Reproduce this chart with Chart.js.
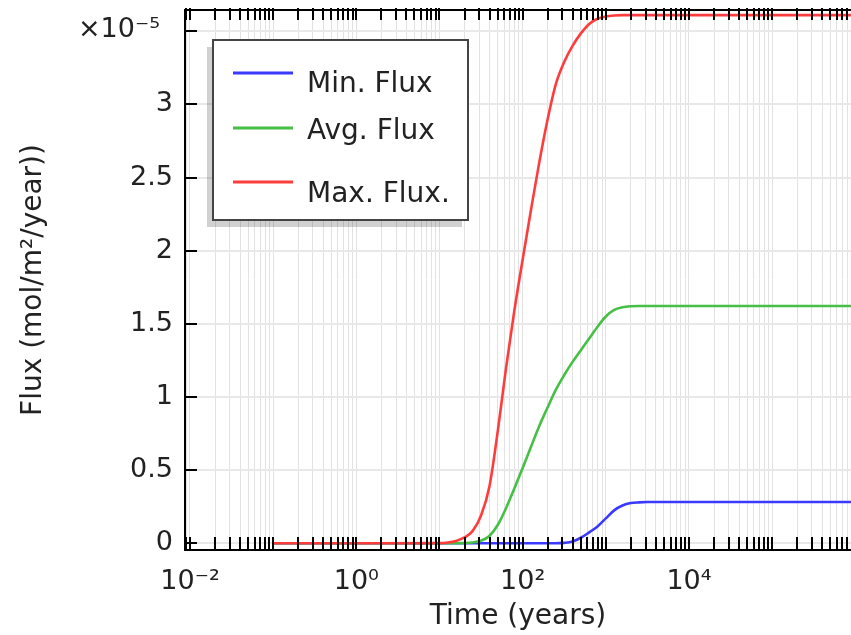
<!DOCTYPE html>
<html>
<head>
<meta charset="utf-8">
<script src="https://cdn.jsdelivr.net/npm/chart.js@4.4.1/dist/chart.umd.min.js"></script>
<style>
  html, body { margin: 0; padding: 0; background: #fff; }
  canvas { display: block; }
</style>
</head>
<body>
<canvas id="fluxChart" width="851" height="635"></canvas>
<script>
// Time steps (years)
const times = [0.1, 1, 10, 12.6, 15.8, 20, 25.1, 31.6, 39.8, 50.1, 63.1, 79.4, 100, 126, 158, 200, 251, 316,
  398, 501, 631, 794, 1000, 1259, 1585, 1995, 2512, 3162, 10000, 100000, 1000000];

// Flux values, in units of 1e-5 mol/m2/year
const minFlux = [0, 0, 0, 0, 0, 0, 0, 0, 0, 0, 0, 0, 0, 0, 0, 0, 0, 0.003,
  0.012, 0.038, 0.075, 0.115, 0.17, 0.225, 0.258, 0.275, 0.28, 0.282, 0.282, 0.282, 0.282];
const avgFlux = [0, 0, 0, 0, 0.001, 0.002, 0.006, 0.018, 0.05, 0.125, 0.24, 0.375, 0.515, 0.66, 0.80, 0.93, 1.05, 1.15,
  1.24, 1.32, 1.40, 1.48, 1.55, 1.595, 1.613, 1.62, 1.622, 1.622, 1.622, 1.622, 1.622];
const maxFlux = [0, 0, 0.001, 0.005, 0.016, 0.04, 0.085, 0.19, 0.387, 0.763, 1.197, 1.59, 1.94, 2.28, 2.60, 2.90, 3.14, 3.29,
  3.40, 3.485, 3.55, 3.585, 3.60, 3.607, 3.61, 3.61, 3.61, 3.61, 3.61, 3.61, 3.61];

const seriesNames = ['Min. Flux', 'Avg. Flux', 'Max. Flux.'];
const seriesColors = ['#3a3aff', '#45c045', '#ff3c3c'];

// Axis ticks
const yTickValues = [0, 0.5, 1, 1.5, 2, 2.5, 3, 3.5];
const xLabelDecades = [-2, 0, 2, 4];
const supDigits = { '-': '\u207B', '0': '\u2070', '1': '\u00B9', '2': '\u00B2', '3': '\u00B3', '4': '\u2074',
  '5': '\u2075', '6': '\u2076', '7': '\u2077', '8': '\u2078', '9': '\u2079' };

function sup(n) {
  return String(n).split('').map(c => supDigits[c]).join('');
}

function toPoints(values) {
  return times.map((t, i) => ({ x: t, y: values[i] }));
}

// inward ticks + top axis line, like the original plot
const frameTicks = {
  id: 'frameTicks',
  afterDatasetsDraw(chart) {
    const { ctx, chartArea: a, scales: { x, y } } = chart;
    ctx.save();
    ctx.strokeStyle = '#000';
    ctx.lineWidth = 2;
    ctx.beginPath();
    x.ticks.forEach(t => {
      const px = Math.round(x.getPixelForValue(t.value));
      ctx.moveTo(px, a.bottom);
      ctx.lineTo(px, a.bottom - 13);
      ctx.moveTo(px, a.top - 2);
      ctx.lineTo(px, a.top + 10);
    });
    y.ticks.forEach(t => {
      const py = Math.round(y.getPixelForValue(t.value));
      ctx.moveTo(a.left, py);
      ctx.lineTo(a.left + 12, py);
    });
    ctx.moveTo(a.left - 1, a.top);
    ctx.lineTo(a.right, a.top);
    ctx.stroke();
    ctx.restore();
  }
};

const fluxLegend = {
  id: 'fluxLegend',
  afterDatasetsDraw(chart) {
    const { ctx } = chart;
    const bx = 213, by = 40, bw = 255, bh = 180;
    ctx.save();
    ctx.fillStyle = 'rgba(0,0,0,0.18)';
    ctx.fillRect(bx - 6, by + 7, bw, bh);
    ctx.fillStyle = '#fff';
    ctx.fillRect(bx, by, bw, bh);
    ctx.strokeStyle = '#444';
    ctx.lineWidth = 2;
    ctx.strokeRect(bx, by, bw, bh);

    const lineRows = [73, 128, 182];
    const textRows = [92, 139, 202];
    ctx.font = '28px "DejaVu Sans"';
    ctx.textAlign = 'left';
    ctx.textBaseline = 'alphabetic';
    chart.data.datasets.forEach((ds, i) => {
      ctx.strokeStyle = ds.borderColor;
      ctx.lineWidth = 3;
      ctx.beginPath();
      ctx.moveTo(233, lineRows[i]);
      ctx.lineTo(293, lineRows[i]);
      ctx.stroke();
      ctx.fillStyle = '#222';
      ctx.fillText(ds.label, 307, textRows[i]);
    });
    ctx.restore();
  }
};

const multiplier = {
  id: 'multiplier',
  afterDraw(chart) {
    const { ctx } = chart;
    ctx.save();
    ctx.font = '27px "DejaVu Sans"';
    ctx.fillStyle = '#222';
    ctx.textAlign = 'right';
    ctx.textBaseline = 'alphabetic';
    ctx.fillText('\u00D710' + sup(-5), 160, 37);
    ctx.restore();
  }
};

Chart.defaults.font.family = '"DejaVu Sans", sans-serif';
Chart.defaults.color = '#222';

new Chart(document.getElementById('fluxChart').getContext('2d'), {
  type: 'line',
  data: {
    datasets: [minFlux, avgFlux, maxFlux].map((vals, i) => ({
      label: seriesNames[i],
      data: toPoints(vals),
      borderColor: seriesColors[i],
      borderWidth: 2.6,
      pointRadius: 0,
      fill: false,
      cubicInterpolationMode: 'monotone',
      order: 3 - i
    }))
  },
  options: {
    responsive: false,
    animation: false,
    layout: { padding: { top: 10, right: 0, bottom: 0, left: 0 } },
    plugins: {
      legend: { display: false },
      tooltip: { enabled: false }
    },
    scales: {
      x: {
        type: 'logarithmic',
        min: Math.pow(10, -2.06),
        max: Math.pow(10, 5.948),
        afterBuildTicks(scale) {
          const list = [];
          for (let n = -3; n <= 6; n++) {
            for (let k = 1; k <= 9; k++) {
              const v = k * Math.pow(10, n);
              if (v >= scale.min && v <= scale.max) list.push({ value: v });
            }
          }
          scale.ticks = list;
        },
        afterFit(scale) {
          scale.height = 85;
          scale.paddingLeft = 0;
          scale.paddingRight = 0;
        },
        ticks: {
          autoSkip: false,
          maxRotation: 0,
          padding: 16,
          font: { size: 27 },
          callback(v) {
            const e = Math.round(Math.log10(v));
            if (Math.abs(Math.log10(v) - e) > 1e-6) return '';
            return xLabelDecades.includes(e) ? '10' + sup(e) : '';
          }
        },
        grid: { color: '#e2e2e2', lineWidth: 1, drawTicks: false },
        border: { color: '#000', width: 2 },
        title: {
          display: true,
          text: 'Time (years)',
          font: { size: 28 },
          padding: { top: 0, bottom: 1 }
        }
      },
      y: {
        type: 'linear',
        min: -0.0458,
        max: 3.645,
        afterBuildTicks(scale) {
          scale.ticks = yTickValues.map(v => ({ value: v }));
        },
        afterFit(scale) {
          scale.width = 185;
          scale.paddingTop = 0;
          scale.paddingBottom = 0;
        },
        ticks: {
          padding: 12,
          font: { size: 27 },
          callback(v) { return v === 3.5 ? '' : String(v); }
        },
        grid: { color: '#e8e8e8', lineWidth: 2, drawTicks: false },
        border: { color: '#000', width: 2 },
        title: {
          display: true,
          text: 'Flux (mol/m\u00B2/year))',
          font: { size: 28 },
          padding: { top: 17, bottom: 0 }
        }
      }
    }
  },
  plugins: [frameTicks, fluxLegend, multiplier]
});
</script>
</body>
</html>
